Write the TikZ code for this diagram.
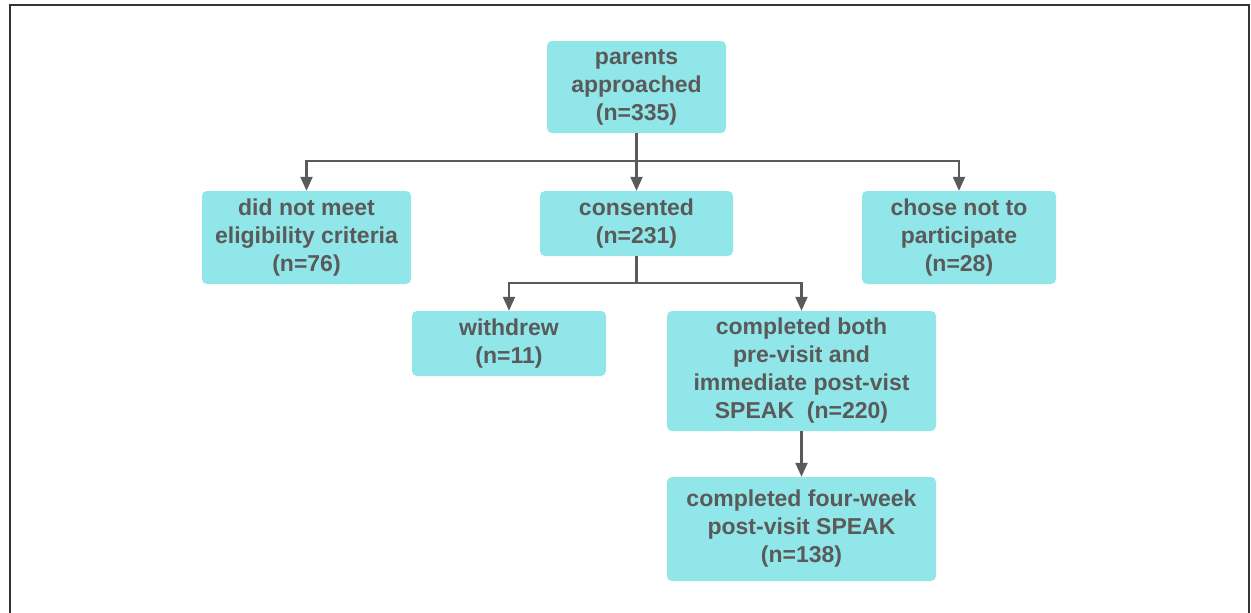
\documentclass[tikz,border=0pt]{standalone}
\usepackage{fontspec}
\setmainfont{Liberation Sans}
\usetikzlibrary{arrows.meta}
\definecolor{boxfill}{HTML}{90E6E8}
\definecolor{inkgray}{HTML}{5A5A5A}

\begin{document}
\begin{tikzpicture}[x=1pt, y=1pt]
        \tikzstyle{box}=[fill=boxfill, draw=none, rounded corners=5pt, inner sep=0pt, align=center,
            text=inkgray, font=\fontsize{23}{28}\selectfont\bfseries]
        \tikzstyle{link}=[draw=inkgray, line width=2.2pt]
        \tikzstyle{arrow}=[link, -{Triangle[length=14pt, width=12pt]}]
        \useasboundingbox (0,0) rectangle (1251,-613);
        % frame, open at the bottom
        \draw [line width=1.5pt, color=black!80] (10,-613) -- (10,-5) -- (1249,-5) -- (1249,-613);

        \node [style=box, minimum width=179, minimum height=92] (0) at (636.5,-87) {parents\\approached\\(n=335)};
        \node [style=box, minimum width=209, minimum height=93] (1) at (306.5,-237.5) {did not meet\\eligibility criteria\\(n=76)};
        \node [style=box, minimum width=193, minimum height=65] (2) at (636.5,-223.5) {consented\\(n=231)};
        \node [style=box, minimum width=194, minimum height=93] (3) at (959,-237.5) {chose not to\\participate\\(n=28)};
        \node [style=box, minimum width=194, minimum height=65] (4) at (509,-343.5) {withdrew\\(n=11)};
        \node [style=box, minimum width=269, minimum height=120] (5) at (801.5,-371) {completed both\\pre-visit and\\immediate post-vist\\SPEAK\ \ (n=220)};
        \node [style=box, minimum width=269, minimum height=104] (6) at (801.5,-529) {completed four-week\\post-visit SPEAK\\(n=138)};

        \coordinate (a) at (636.5,-161);
        \coordinate (b) at (636.5,-283);

        \draw [style=link] (0.south) to (a);
        \draw [style=arrow] (a) -| (1.north);
        \draw [style=arrow] (a) to (2.north);
        \draw [style=arrow] (a) -| (3.north);
        \draw [style=link] (2.south) to (b);
        \draw [style=arrow] (b) -| (4.north);
        \draw [style=arrow] (b) -| (5.north);
        \draw [style=arrow] (5.south) to (6.north);
\end{tikzpicture}
\end{document}
